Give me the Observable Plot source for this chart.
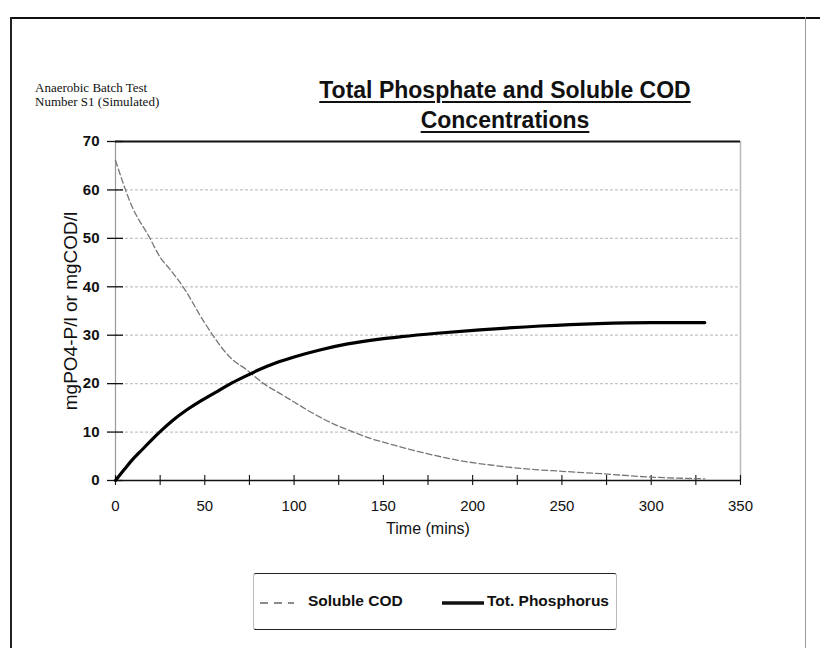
<!DOCTYPE html>
<html>
<head>
<meta charset="utf-8">
<script src="https://cdn.jsdelivr.net/npm/d3@7"></script>
<script src="https://cdn.jsdelivr.net/npm/@observablehq/plot@0.6"></script>
<style>
  body { margin: 0; background: #fff; }
  #wrap { position: relative; width: 820px; height: 648px; overflow: hidden; font-family: Arial, "Liberation Sans", sans-serif; }
  #chart { position: absolute; left: 0; top: 0; }
  .note { position: absolute; left: 35px; top: 81px; font-family: "Liberation Serif", "Times New Roman", serif; font-size: 13px; line-height: 14px; color: #111; }
  .title { position: absolute; left: 205px; width: 600px; text-align: center; font-weight: bold; font-size: 23px; color: #111; text-decoration: underline; text-underline-offset: 3px; text-decoration-thickness: 2px; }
  .legend { position: absolute; left: 253px; top: 573px; width: 364px; height: 57px; border-top: 1.5px solid #222; border-bottom: 1.5px solid #222; border-left: 1px solid #bbb; border-right: 1px solid #bbb; border-radius: 3px; box-sizing: border-box; }
  .litem { position: absolute; top: 18px; font-weight: bold; font-size: 15.5px; color: #111; }
  .frame-top { position: absolute; left: 10px; top: 17px; width: 810px; height: 2px; background: #111; }
  .frame-left { position: absolute; left: 10px; top: 17px; width: 1.5px; height: 640px; background: #222; }
  .frame-right { position: absolute; left: 805px; top: 17px; width: 1px; height: 640px; background: #999; }
</style>
</head>
<body>
<div id="wrap">
  <div class="frame-top"></div>
  <div class="frame-left"></div>
  <div class="frame-right"></div>
  <div class="note">Anaerobic Batch Test<br>Number S1 (Simulated)</div>
  <div class="title" style="top:77px">Total Phosphate and Soluble COD</div>
  <div class="title" style="top:107px">Concentrations</div>
  <div id="chart"></div>
  <div class="legend">
    <svg style="position:absolute;left:4px;top:0" width="40" height="57"><line x1="2" x2="36" y1="29" y2="29" stroke="#666" stroke-width="1.3" stroke-dasharray="8,6"/></svg>
    <div class="litem" style="left:54px">Soluble COD</div>
    <svg style="position:absolute;left:186px;top:0" width="46" height="57"><line x1="2" x2="44" y1="29" y2="29" stroke="#111" stroke-width="3.5"/></svg>
    <div class="litem" style="left:233px">Tot. Phosphorus</div>
  </div>
</div>
<script>
// Soluble COD series (time in mins, mgCOD/l)
const codTime = [0, 9, 19, 25, 31, 38, 50, 64, 74, 83, 92, 100, 110, 122, 132, 141, 150, 160, 175, 193, 210, 230, 250, 272, 300, 330];
const codValue = [66.1, 56.8, 50.2, 46.1, 43.4, 39.9, 32.5, 25.5, 22.7, 20.0, 18.0, 16.2, 14.0, 11.7, 10.2, 8.9, 7.9, 6.9, 5.5, 4.1, 3.2, 2.4, 1.9, 1.4, 0.7, 0.35];
// Total phosphorus series (time in mins, mgPO4-P/l)
const pTime = [0, 5, 9, 15, 20, 25, 32, 40, 48, 56, 64, 72, 80, 90, 100, 115, 130, 148, 160, 180, 204, 238, 270, 300, 330];
const pValue = [0, 2.3, 4.1, 6.4, 8.3, 10.1, 12.4, 14.6, 16.5, 18.2, 19.9, 21.4, 22.8, 24.3, 25.5, 27.0, 28.2, 29.2, 29.7, 30.4, 31.1, 31.9, 32.4, 32.6, 32.6];
// Axis ticks
const xTickLabels = [0, 50, 100, 150, 200, 250, 300, 350];
const xMinorTicks = [0, 25, 50, 75, 100, 125, 150, 175, 200, 225, 250, 275, 300, 325, 350];
const yTickLabels = [0, 10, 20, 30, 40, 50, 60, 70];
const yGrid = [10, 20, 30, 40, 50, 60];

const cod = codTime.map((t, i) => ({t, v: codValue[i]}));
const phos = pTime.map((t, i) => ({t, v: pValue[i]}));

const W = 820, H = 648, mL = 115, mR = 80, mT = 141, mB = 168;
const plotW = W - mL - mR, plotH = H - mT - mB;

const chart = Plot.plot({
  width: W, height: H,
  marginLeft: mL, marginRight: mR, marginTop: mT, marginBottom: mB,
  style: {fontFamily: "Arial, 'Liberation Sans', sans-serif", background: "transparent", color: "#111"},
  x: {domain: [0, 350]},
  y: {domain: [0, 70]},
  marks: [
    Plot.ruleY(yGrid, {stroke: "#c4c4c4", strokeWidth: 1.2, strokeDasharray: "3,2"}),
    Plot.ruleX([350], {stroke: "#b8b8b8", strokeWidth: 1.5}),
    Plot.ruleX([0], {stroke: "#999", strokeWidth: 1.2}),
    Plot.ruleY([70], {stroke: "#111", strokeWidth: 2}),
    Plot.ruleY([0], {stroke: "#111", strokeWidth: 1.3}),
    Plot.tickY(yTickLabels, {y: d => d, stroke: "#111", strokeWidth: 1.3, insetLeft: -8, insetRight: plotW - 8}),
    Plot.tickX(xMinorTicks, {x: d => d, stroke: "#111", strokeWidth: 1.1, insetTop: plotH - 5, insetBottom: -5}),
    Plot.axisX(xTickLabels, {tickSize: 0, tickPadding: 20, fontSize: 15, label: null}),
    Plot.axisY(yTickLabels, {tickSize: 0, tickPadding: 16, fontSize: 15, fontWeight: "bold", label: null}),
    Plot.text(["Time (mins)"], {frameAnchor: "bottom", dy: 53, fontSize: 16, fill: "#111"}),
    Plot.text(["mgPO4-P/l or mgCOD/l"], {frameAnchor: "left", textAnchor: "middle", dx: -45, rotate: -90, fontSize: 19, fill: "#111"}),
    Plot.line(cod, {x: "t", y: "v", stroke: "#777", strokeWidth: 1.3, strokeDasharray: "6,3", curve: "monotone-x"}),
    Plot.line(phos, {x: "t", y: "v", stroke: "#000", strokeWidth: 3.2, curve: "monotone-x"})
  ]
});
document.getElementById("chart").appendChild(chart);
</script>
</body>
</html>
